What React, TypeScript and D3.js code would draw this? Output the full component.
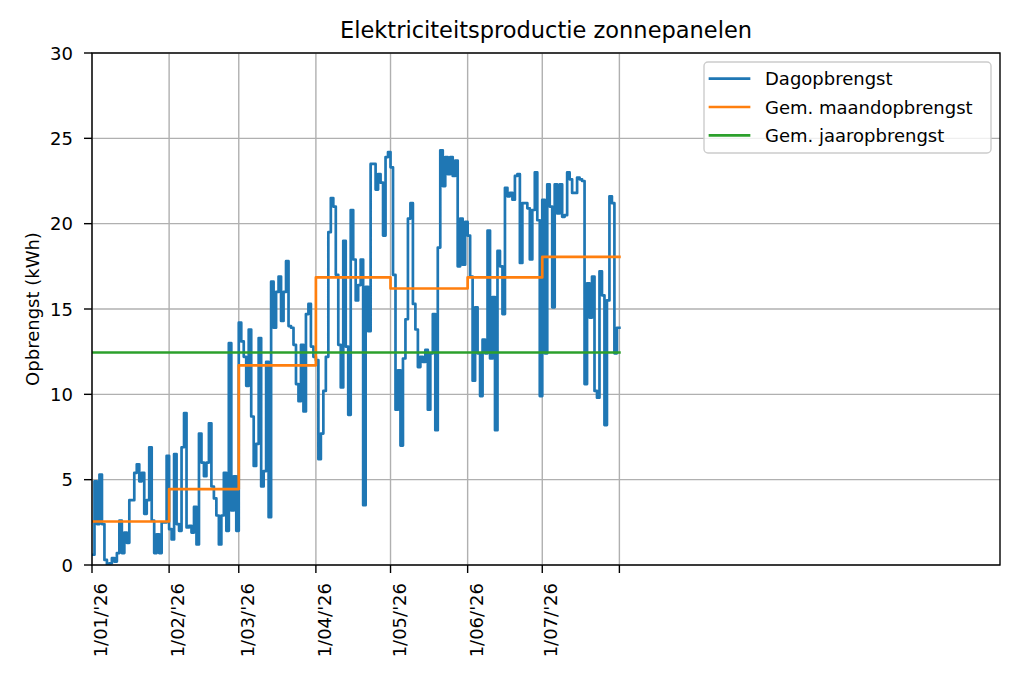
import * as d3 from "d3";

// daily yield (kWh), one array per month
const jan = [0.6, 4.9, 2.4, 5.3, 2.4, 0.3, 0.0, 0.1, 0.4, 0.2, 0.7, 2.6, 0.7, 1.9, 1.3, 3.8, 3.8, 5.4, 5.9, 4.9, 5.4, 3.0, 3.8, 6.9, 2.6, 0.7, 1.8, 0.7, 2.5, 2.5, 6.4];
const feb = [2.1, 1.5, 6.5, 2.4, 2.0, 6.9, 8.9, 2.2, 2.3, 1.9, 3.4, 1.2, 7.7, 6.0, 5.2, 6.0, 8.3, 4.6, 3.9, 2.9, 1.2, 2.9, 5.4, 2.0, 13.0, 3.2, 5.2, 2.0];
const mar = [14.2, 13.1, 12.2, 10.5, 13.8, 8.7, 5.8, 7.1, 13.3, 4.6, 5.5, 11.9, 2.8, 16.6, 13.9, 16.0, 16.9, 14.3, 16.0, 17.8, 14.0, 13.9, 12.9, 10.6, 9.6, 12.9, 9.0, 14.7, 15.3, 12.8, 12.2];
const apr = [12.0, 6.2, 7.7, 10.2, 12.2, 19.5, 21.5, 21.0, 17.0, 12.9, 10.4, 19.0, 12.8, 8.8, 20.8, 17.9, 15.5, 16.4, 17.9, 3.5, 16.3, 13.7, 23.5, 23.5, 22.0, 22.9, 22.4, 19.3, 23.9, 24.2];
const may = [23.3, 17.0, 9.1, 11.4, 7.0, 12.1, 14.4, 20.3, 21.2, 15.3, 13.8, 11.6, 12.2, 11.9, 12.6, 9.1, 12.4, 14.7, 7.9, 18.6, 24.3, 22.2, 23.9, 22.9, 23.9, 22.8, 23.7, 17.5, 20.3, 17.6, 20.1];
const jun = [19.3, 16.9, 10.8, 15.1, 12.4, 9.9, 13.2, 12.4, 19.6, 12.1, 15.7, 7.9, 18.4, 17.5, 14.7, 22.1, 21.6, 21.8, 21.4, 22.8, 22.9, 17.7, 21.2, 21.2, 20.9, 17.9, 20.8, 23.0, 20.2, 9.9];
const jul = [21.4, 12.4, 22.3, 21.0, 15.1, 22.3, 20.6, 22.3, 20.4, 20.5, 23.0, 22.6, 21.8, 21.8, 22.7, 22.6, 22.5, 10.6, 16.5, 14.5, 16.9, 10.2, 9.8, 17.2, 15.8, 8.2, 15.5, 21.6, 21.2, 12.4, 13.9];

const monthAverages = [2.55, 4.45, 11.7, 16.85, 16.2, 16.85, 18.05];
const yearAverage = 12.45;

const xTickLabels = ["1/01/'26", "1/02/'26", "1/03/'26", "1/04/'26", "1/05/'26", "1/06/'26", "1/07/'26", ""];
const yTicks = [0, 5, 10, 15, 20, 25, 30];
const legendLabels = ["Dagopbrengst", "Gem. maandopbrengst", "Gem. jaaropbrengst"];
const colors = ["#1f77b4", "#ff7f0e", "#2ca02c"];

const width = 1020;
const height = 680;
const margin = { top: 53, right: 20, bottom: 115, left: 92 };
const font = "DejaVu Sans, sans-serif";
const fs = 18;
const tickLen = 8;

export default function App() {
    const start = new Date(2026, 0, 1);
    const xScale = d3
        .scaleTime()
        .domain([start, new Date(2027, 0, 1)])
        .range([margin.left, width - margin.right]);
    const yScale = d3
        .scaleLinear()
        .domain([0, 30])
        .range([height - margin.bottom, margin.top]);

    const daily = [...jan, ...feb, ...mar, ...apr, ...may, ...jun, ...jul];
    // step line needs a closing point one day after the last value
    const dailyPts: [Date, number][] = daily.map((v, i) => [d3.timeDay.offset(start, i), v]);
    dailyPts.push([d3.timeDay.offset(start, daily.length), daily[daily.length - 1]]);

    const monthPts: [Date, number][] = monthAverages.map((v, i) => [d3.timeMonth.offset(start, i), v]);
    monthPts.push([d3.timeMonth.offset(start, monthAverages.length), monthAverages[monthAverages.length - 1]]);

    const yearPts: [Date, number][] = [
        [start, yearAverage],
        [d3.timeMonth.offset(start, monthAverages.length), yearAverage],
    ];

    const line = d3
        .line<[Date, number]>()
        .x((d) => xScale(d[0]))
        .y((d) => yScale(d[1]))
        .curve(d3.curveStepAfter);

    const xTicks = xTickLabels.map((_, i) => d3.timeMonth.offset(start, i));
    const x0 = margin.left;
    const x1 = width - margin.right;
    const y0 = height - margin.bottom;
    const y1 = margin.top;

    const legendX = 704;
    const legendY = 62;
    const rowGap = 28.3;

    return (
        <div style={{ position: "absolute", left: 0, top: 0, width, height, background: "#fff" }}>
            <svg width={width} height={height} viewBox={`0 0 ${width} ${height}`} fontFamily={font}>
                <rect width={width} height={height} fill="#fff" />
                <defs>
                    <clipPath id="plot">
                        <rect x={x0} y={y1} width={x1 - x0} height={y0 - y1} />
                    </clipPath>
                </defs>

                {/* grid */}
                {yTicks.map((t) => (
                    <line key={`gy${t}`} x1={x0} x2={x1} y1={yScale(t)} y2={yScale(t)} stroke="#b0b0b0" strokeWidth={1.4} />
                ))}
                {xTicks.map((t, i) => (
                    <line key={`gx${i}`} x1={xScale(t)} x2={xScale(t)} y1={y1} y2={y0} stroke="#b0b0b0" strokeWidth={1.4} />
                ))}

                <g clipPath="url(#plot)" fill="none" strokeWidth={2.7} strokeLinejoin="round" strokeLinecap="square">
                    <path d={line(dailyPts) ?? ""} stroke={colors[0]} />
                    <path d={line(monthPts) ?? ""} stroke={colors[1]} />
                    <path d={line(yearPts) ?? ""} stroke={colors[2]} />
                </g>

                {/* spines */}
                <rect x={x0} y={y1} width={x1 - x0} height={y0 - y1} fill="none" stroke="#000" strokeWidth={1.4} />

                {/* y axis */}
                {yTicks.map((t) => (
                    <g key={`ty${t}`}>
                        <line x1={x0 - tickLen} x2={x0} y1={yScale(t)} y2={yScale(t)} stroke="#000" strokeWidth={1.4} />
                        <text x={x0 - tickLen - 11} y={yScale(t)} textAnchor="end" dominantBaseline="central" fontSize={fs}>
                            {t}
                        </text>
                    </g>
                ))}

                {/* x axis */}
                {xTicks.map((t, i) => (
                    <g key={`tx${i}`}>
                        <line x1={xScale(t)} x2={xScale(t)} y1={y0} y2={y0 + tickLen} stroke="#000" strokeWidth={1.4} />
                        <text
                            transform={`translate(${xScale(t) + 8.5},${y0 + tickLen + 10}) rotate(-90)`}
                            textAnchor="end"
                            dominantBaseline="central"
                            fontSize={fs}
                        >
                            {xTickLabels[i]}
                        </text>
                    </g>
                ))}

                <text
                    transform={`translate(32,${(y0 + y1) / 2}) rotate(-90)`}
                    textAnchor="middle"
                    dominantBaseline="central"
                    fontSize={fs}
                >
                    Opbrengst (kWh)
                </text>

                <text x={(x0 + x1) / 2} y={38} textAnchor="middle" fontSize={22.5}>
                    Elektriciteitsproductie zonnepanelen
                </text>

                {/* legend */}
                <rect
                    x={legendX}
                    y={legendY}
                    width={x1 - 9 - legendX}
                    height={91}
                    rx={4}
                    fill="#fff"
                    fillOpacity={0.8}
                    stroke="#cccccc"
                    strokeWidth={1.4}
                />
                {legendLabels.map((label, i) => {
                    const cy = legendY + 16.7 + i * rowGap;
                    return (
                        <g key={label}>
                            <line x1={legendX + 6} x2={legendX + 45} y1={cy} y2={cy} stroke={colors[i]} strokeWidth={2.7} strokeLinecap="square" />
                            <text x={legendX + 61} y={cy} dominantBaseline="central" fontSize={fs}>
                                {label}
                            </text>
                        </g>
                    );
                })}
            </svg>
        </div>
    );
}
